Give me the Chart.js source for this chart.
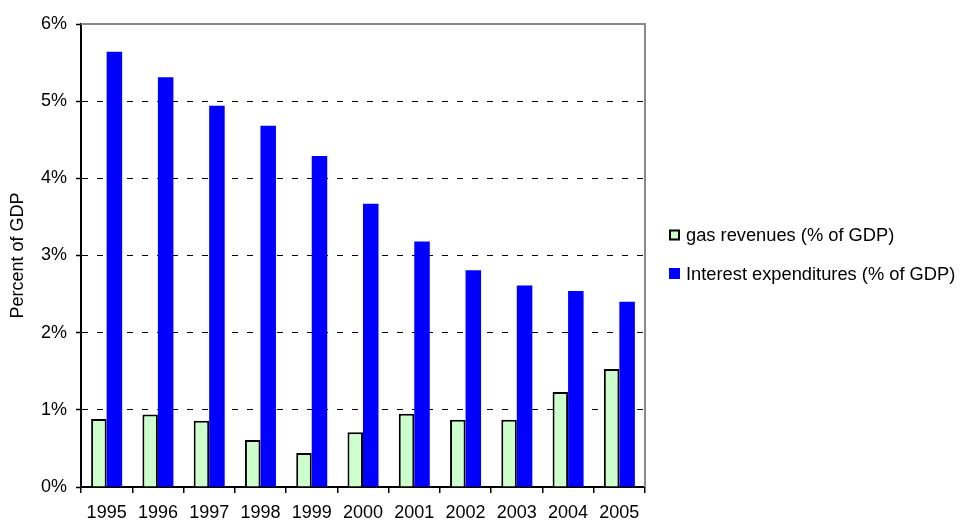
<!DOCTYPE html>
<html>
<head>
<meta charset="utf-8">
<script src="https://cdn.jsdelivr.net/npm/chart.js@4/dist/chart.umd.min.js"></script>
<style>
  html, body { margin: 0; padding: 0; background: #fff; }
  #wrap { width: 962px; height: 520px; position: relative; }
</style>
</head>
<body>
<div id="wrap"><canvas id="c" width="962" height="520"></canvas></div>
<script>
const years = ['1995','1996','1997','1998','1999','2000','2001','2002','2003','2004','2005'];
const gasRevenues = [0.88, 0.94, 0.86, 0.61, 0.44, 0.71, 0.95, 0.87, 0.87, 1.23, 1.53];
const interestExpenditures = [5.64, 5.31, 4.94, 4.68, 4.29, 3.67, 3.18, 2.81, 2.61, 2.54, 2.40];
const seriesLabels = ['gas revenues (% of GDP)', 'Interest expenditures (% of GDP)'];
const yTicks = [0, 1, 2, 3, 4, 5, 6];
const yTitle = 'Percent of GDP';

const FONT = "'Liberation Sans', Arial, sans-serif";

const framePlugin = {
  id: 'frame',
  afterDatasetsDraw(chart) {
    const { ctx, chartArea: a } = chart;
    ctx.save();
    ctx.strokeStyle = '#8a8a8a';
    ctx.lineWidth = 2;
    ctx.beginPath();
    ctx.moveTo(a.left, a.top);
    ctx.lineTo(a.right, a.top);
    ctx.lineTo(a.right, a.bottom);
    ctx.stroke();
    ctx.restore();
  }
};

const legendPlugin = {
  id: 'customLegend',
  afterDraw(chart) {
    const { ctx } = chart;
    const x0 = 669, rows = [235, 273.5];
    ctx.save();
    ctx.font = '18.3px ' + FONT;
    ctx.textBaseline = 'middle';
    ctx.textAlign = 'left';
    chart.data.datasets.forEach((ds, i) => {
      const y = rows[i];
      ctx.fillStyle = ds.backgroundColor;
      ctx.fillRect(x0, y - 5.5, 11, 11);
      if (ds.borderWidth) {
        ctx.strokeStyle = '#000';
        ctx.lineWidth = 2;
        ctx.strokeRect(x0 + 1, y - 4.5, 9, 9);
      }
      ctx.fillStyle = '#000';
      ctx.fillText(ds.label, x0 + 17, y + 1);
    });
    ctx.restore();
  }
};

new Chart(document.getElementById('c'), {
  type: 'bar',
  data: {
    labels: years,
    datasets: [
      {
        label: seriesLabels[0],
        data: gasRevenues,
        backgroundColor: '#CCFFCC',
        borderColor: '#000000',
        borderWidth: 2,
        borderSkipped: 'bottom'
      },
      {
        label: seriesLabels[1],
        data: interestExpenditures,
        backgroundColor: '#0000FF',
        borderWidth: 0
      }
    ]
  },
  options: {
    responsive: false,
    animation: false,
    devicePixelRatio: 1,
    layout: { padding: { left: 0, top: 24, right: 317, bottom: 0 } },
    datasets: { bar: { categoryPercentage: 0.605, barPercentage: 1.0 } },
    plugins: {
      legend: { display: false },
      tooltip: { enabled: false },
      title: { display: false }
    },
    scales: {
      x: {
        offset: true,
        grid: {
          display: true,
          drawOnChartArea: false,
          drawTicks: true,
          tickLength: 6,
          color: '#000',
          tickColor: '#000',
          lineWidth: 1.5
        },
        border: { display: true, color: '#000', width: 2 },
        ticks: {
          color: '#000',
          font: { family: FONT, size: 18 },
          padding: 9,
          maxRotation: 0,
          autoSkip: false
        },
        afterFit(scale) { scale.height = 33; }
      },
      y: {
        min: 0,
        max: 6,
        afterBuildTicks(scale) { scale.ticks = yTicks.map(v => ({ value: v })); },
        grid: {
          display: true,
          drawOnChartArea: true,
          drawTicks: true,
          tickLength: 5,
          color: (c) => (c.tick && (c.tick.value === 0 || c.tick.value === 6)) ? 'rgba(0,0,0,0)' : '#000',
          tickColor: '#000',
          lineWidth: 1,
          tickBorderDash: [],
          tickWidth: 1.5
        },
        border: { display: true, color: '#000', width: 2, dash: [6, 9] },
        ticks: {
          color: '#000',
          font: { family: FONT, size: 18 },
          padding: 9,
          callback: (v) => v + '%'
        },
        title: {
          display: true,
          text: yTitle,
          color: '#000',
          font: { family: FONT, size: 18 },
          padding: { top: 7, bottom: 0 }
        },
        afterFit(scale) { scale.width = 81; }
      }
    }
  },
  plugins: [framePlugin, legendPlugin]
});
</script>
</body>
</html>
